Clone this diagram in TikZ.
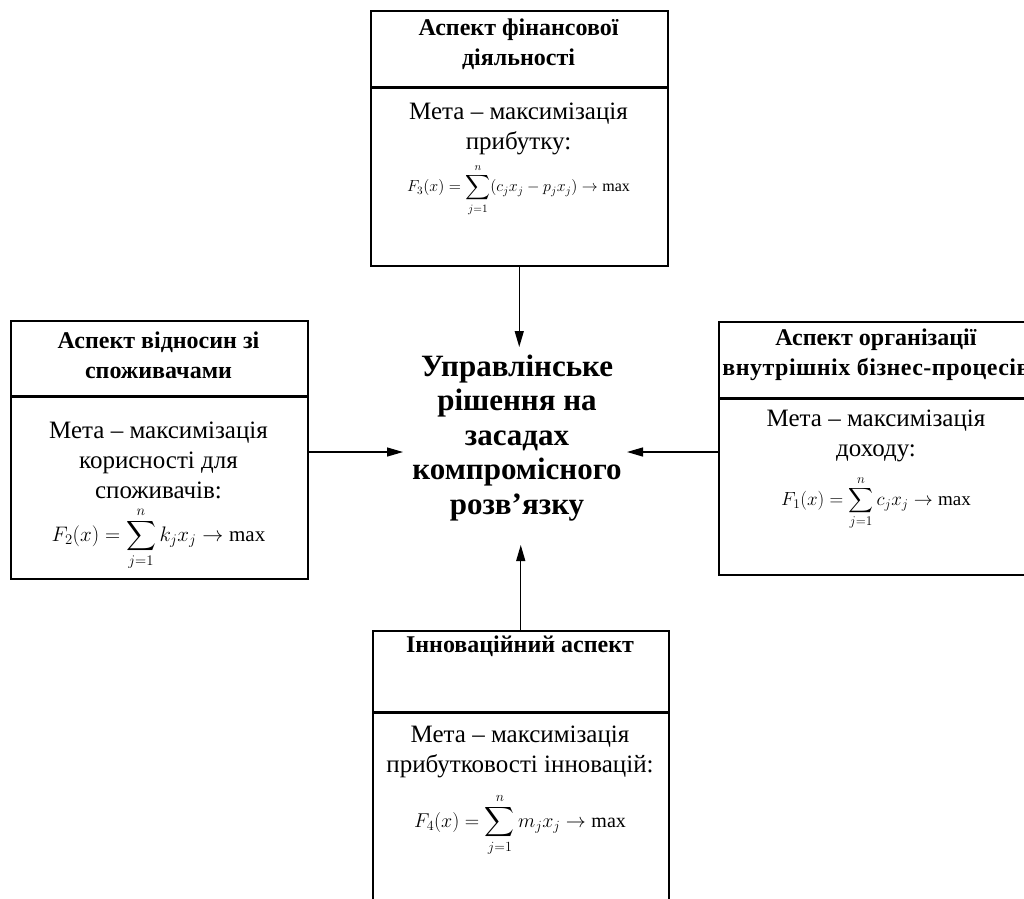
\RequirePackage{fix-cm}
\documentclass[tikz,border=0pt]{standalone}
\usepackage{exscale}
\usepackage{fontspec}
\setmainfont{Liberation Serif}
\usetikzlibrary{arrows.meta}
\begin{document}
\begin{tikzpicture}[x=1pt,y=-1pt,
  frame/.style={draw,line width=1.5pt,inner sep=0pt,anchor=north west},
  hdr/.style={font=\bfseries\fontsize{24}{30}\selectfont,align=center,inner sep=0pt},
  txt/.style={font=\fontsize{25}{30}\selectfont,align=center,inner sep=0pt},
  ctr/.style={font=\bfseries\fontsize{31}{34.5}\selectfont,align=center,inner sep=0pt},
  fml/.style={inner sep=0pt},
  arr/.style={line width=1.3pt,-{Triangle[length=16pt,width=9pt]}}]
\useasboundingbox (0,0) rectangle (1024,898);
\clip (0,0) rectangle (1024,898);
% top box
\node[frame,minimum width=297pt,minimum height=76pt] (th) at (370,10) {};
\node[frame,minimum width=297pt,minimum height=177.5pt] (tb) at (370,87.5) {};
\node[hdr] (tht) at (518.5,44) {Аспект фінансової\\діяльності};
\node[txt] (tbt) at (518.5,129) {Мета – максимізація\\прибутку:};
\node[fml,font=\fontsize{16}{16}\selectfont] (tf) at (518.5,190) {$\displaystyle F_3(x)=\sum_{j=1}^{n}(c_jx_j-p_jx_j)\to\max$};
% left box
\node[frame,minimum width=297pt,minimum height=75pt] (lh) at (10,320) {};
\node[frame,minimum width=297pt,minimum height=181.5pt] (lb) at (10,396.5) {};
\node[hdr] (lht) at (158.5,355) {Аспект відносин зі\\споживачами};
\node[txt] (lbt) at (158.5,460) {Мета – максимізація\\корисності для\\споживачів:};
\node[fml,font=\fontsize{21}{21}\selectfont] (lf) at (158.5,539) {$\displaystyle F_2(x)=\sum_{j=1}^{n}k_jx_j\to\max$};
% right box
\node[frame,minimum width=316pt,minimum height=76pt] (rh) at (718,321) {};
\node[frame,minimum width=316pt,minimum height=175.5pt] (rb) at (718,398.5) {};
\node[hdr] (rht) at (876,355) {Аспект організації\\\addfontfeatures{LetterSpace=2}внутрішніх бізнес-процесів};
\node[txt] (rbt) at (876,436) {Мета – максимізація\\доходу:};
\node[fml,font=\fontsize{19}{19}\selectfont] (rf) at (876,503) {$\displaystyle F_1(x)=\sum_{j=1}^{n}c_jx_j\to\max$};
% bottom box
\node[frame,minimum width=296pt,minimum height=81pt] (bh) at (372,630) {};
\node[frame,minimum width=296pt,minimum height=200pt] (bb) at (372,712.5) {};
\node[hdr] (bht) at (520,646) {Інноваційний аспект};
\node[txt] (bbt) at (520,752) {Мета – максимізація\\прибутковості інновацій:};
\node[fml,font=\fontsize{20}{20}\selectfont] (bf) at (520,825) {$\displaystyle F_4(x)=\sum_{j=1}^{n}m_jx_j\to\max$};
% centre
\node[ctr] (c) at (517,438) {Управлінське\\рішення на\\засадах\\компромісного\\розв’язку};
\coordinate (hubN) at (517,347);
\coordinate (hubW) at (403,452);
\coordinate (hubE) at (627,452);
\coordinate (hubS) at (517,545);
\draw[arr] (tb.south) -- (tb.south |- hubN);
\draw[arr] (lb.east |- hubW) -- (hubW);
\draw[arr] (rb.west |- hubE) -- (hubE);
\draw[arr] (bh.north) -- (bh.north |- hubS);
\end{tikzpicture}
\end{document}
